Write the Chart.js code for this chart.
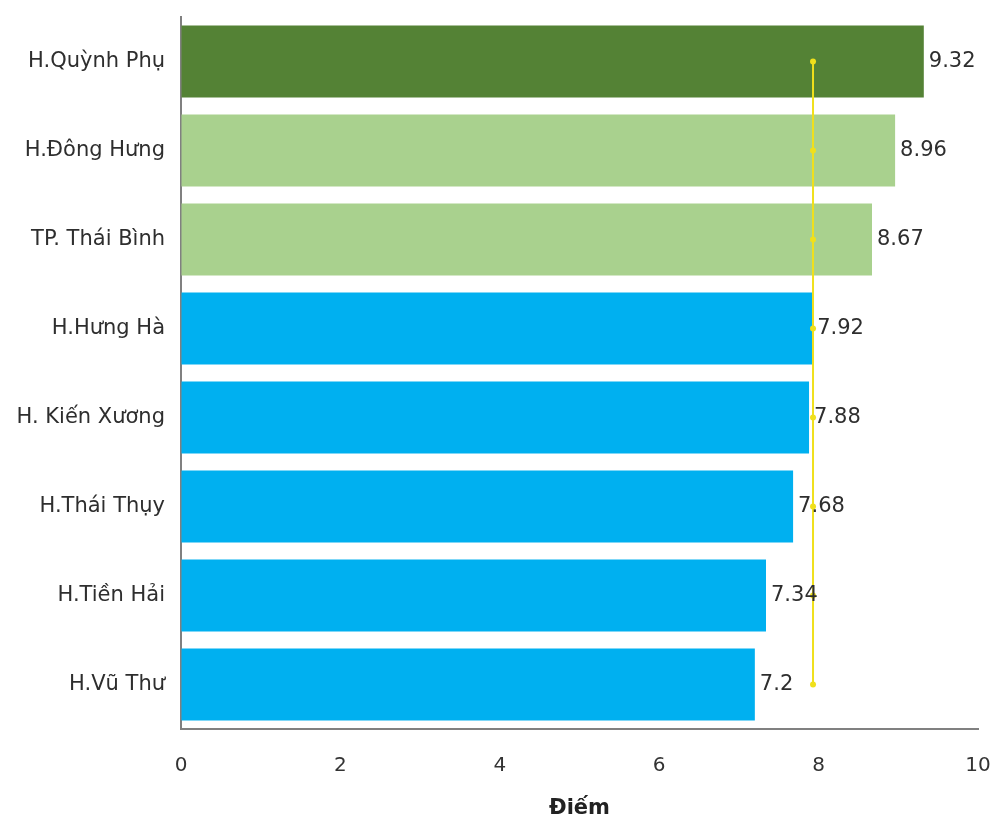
<!DOCTYPE html>
<html lang="vi">
<head>
<meta charset="UTF-8">
<title>Điểm trung bình theo huyện</title>
<script src="https://cdn.jsdelivr.net/npm/chart.js"></script>
<style>
  html, body { margin: 0; padding: 0; background: #fff; }
  #wrap { width: 995px; height: 821px; }
</style>
</head>
<body>
<div id="wrap"><canvas id="scoreChart" width="995" height="821"></canvas></div>
<script>
// districts, top to bottom
const districts = ['H.Quỳnh Phụ', 'H.Đông Hưng', 'TP. Thái Bình', 'H.Hưng Hà', 'H. Kiến Xương', 'H.Thái Thụy', 'H.Tiền Hải', 'H.Vũ Thư'];
const scores = [9.32, 8.96, 8.67, 7.92, 7.88, 7.68, 7.34, 7.2];
// provincial average line
const average = [7.93, 7.93, 7.93, 7.93, 7.93, 7.93, 7.93, 7.93];
const barColors = ['#548235', '#a9d18e', '#a9d18e', '#00b0f0', '#00b0f0', '#00b0f0', '#00b0f0', '#00b0f0'];
const xTicks = [0, 2, 4, 6, 8, 10];

const FONT = 'DejaVu Sans, Verdana, sans-serif';

// write each score just past the end of its bar
const valueLabels = {
  id: 'valueLabels',
  afterDatasetsDraw(chart) {
    const ctx = chart.ctx;
    const meta = chart.getDatasetMeta(1);
    ctx.save();
    ctx.font = '21px ' + FONT;
    ctx.fillStyle = '#2e2e2e';
    ctx.textAlign = 'left';
    ctx.textBaseline = 'middle';
    meta.data.forEach((bar, i) => {
      ctx.fillText(String(scores[i]), bar.x + 5, bar.y);
    });
    ctx.restore();
  }
};

new Chart(document.getElementById('scoreChart'), {
  data: {
    labels: districts,
    datasets: [{
      type: 'line',
      indexAxis: 'y',
      data: average,
      borderColor: '#f0e01c',
      backgroundColor: '#f0e01c',
      borderWidth: 2,
      pointRadius: 3,
      pointBorderWidth: 0,
      order: 0
    }, {
      type: 'bar',
      data: scores,
      backgroundColor: barColors,
      categoryPercentage: 1,
      barPercentage: 0.81,
      order: 1
    }]
  },
  options: {
    indexAxis: 'y',
    responsive: false,
    animation: false,
    layout: { padding: { top: 17, right: 17, left: 0, bottom: 0 } },
    plugins: { legend: { display: false }, tooltip: { enabled: false } },
    scales: {
      x: {
        min: 0,
        max: 10,
        afterBuildTicks(scale) { scale.ticks = xTicks.map(v => ({ value: v })); },
        afterFit(scale) { scale.height = 92; },
        // invisible tick marks push the labels down from the axis
        grid: { drawOnChartArea: false, drawTicks: true, tickLength: 25, tickColor: 'rgba(0,0,0,0)' },
        border: { color: '#808080', width: 2 },
        ticks: { padding: 0, color: '#333', font: { family: FONT, size: 20 } },
        title: {
          display: true,
          text: 'Điếm',
          color: '#222',
          padding: { top: 0, bottom: 0 },
          font: { family: FONT, size: 21, weight: 'bold' }
        }
      },
      y: {
        afterFit(scale) { scale.width = 181; },
        grid: { drawOnChartArea: false, drawTicks: true, tickLength: 16, tickColor: 'rgba(0,0,0,0)' },
        border: { color: '#808080', width: 2 },
        ticks: { padding: 0, color: '#2e2e2e', font: { family: FONT, size: 21 } }
      }
    }
  },
  plugins: [valueLabels]
});
</script>
</body>
</html>
